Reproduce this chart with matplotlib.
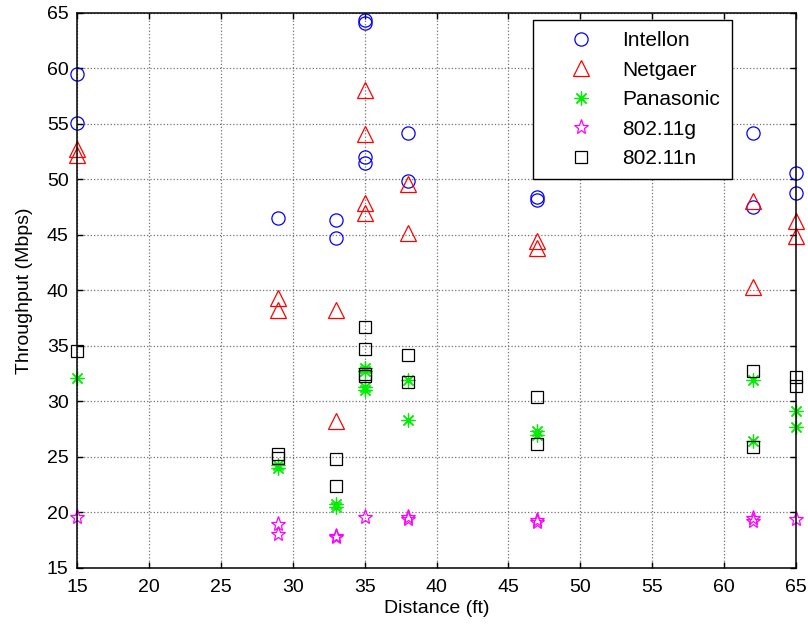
import numpy as np
from matplotlib import pyplot as plt

plt.rcParams['font.family'] = ['Liberation Sans', 'DejaVu Sans']

# 数据
intellon_x = [15, 15, 29, 33, 33, 35, 35, 35, 35, 38, 38, 47, 47, 62, 62, 65, 65]
intellon_y = [59.5, 55.1, 46.5, 46.3, 44.7, 64.3, 64.1, 52.0, 51.5, 54.2, 49.8, 48.4, 48.1, 54.2, 47.5, 50.6, 48.8]

netgaer_x = [15, 15, 29, 29, 33, 33, 35, 35, 35, 35, 38, 38, 47, 47, 62, 62, 65, 65]
netgaer_y = [52.7, 52.2, 39.3, 38.2, 38.2, 28.2, 58.0, 54.1, 47.9, 47.0, 49.6, 45.2, 44.4, 43.8, 48.0, 40.3, 46.2, 44.9]

panasonic_x = [15, 29, 29, 33, 33, 35, 35, 35, 35, 38, 38, 47, 47, 62, 62, 65, 65]
panasonic_y = [32.1, 24.3, 24.0, 20.8, 20.5, 33.0, 32.7, 31.3, 31.0, 31.9, 28.3, 27.3, 27.0, 31.9, 26.4, 29.1, 27.7]

g_x = [15, 29, 29, 33, 33, 35, 38, 38, 47, 47, 62, 62, 65]
g_y = [19.6, 19.0, 18.1, 17.9, 17.8, 19.6, 19.6, 19.4, 19.3, 19.1, 19.5, 19.2, 19.4]

n_x = [15, 29, 29, 33, 33, 35, 35, 35, 35, 38, 38, 47, 47, 62, 62, 65, 65]
n_y = [34.5, 25.3, 24.9, 24.8, 22.4, 36.7, 34.7, 32.5, 32.3, 34.2, 31.7, 30.4, 26.2, 32.7, 25.9, 32.2, 31.4]

x_ticks = [15, 20, 25, 30, 35, 40, 45, 50, 55, 60, 65]
y_ticks = [15, 20, 25, 30, 35, 40, 45, 50, 55, 60, 65]

fig = plt.figure(figsize=(8.08, 6.29), dpi=100)
ax = fig.add_axes([0.0953, 0.097, 0.89, 0.883])

mew = 0.9
common = dict(linestyle='none', markerfacecolor='none', markeredgewidth=mew, clip_on=False)
ax.plot(intellon_x, intellon_y, marker='o', markersize=9.5,
        markeredgecolor='#0000ff', label='Intellon', **common)
ax.plot(netgaer_x, netgaer_y, marker='^', markersize=11,
        markeredgecolor='#ff0000', label='Netgaer', **common)
ax.plot(panasonic_x, panasonic_y, marker=(8, 2, 0), markersize=10,
        markeredgecolor='#00ee00', label='Panasonic', **common)
ax.plot(g_x, g_y, marker='*', markersize=11,
        markeredgecolor='#ff00ff', label='802.11g', **common)
ax.plot(n_x, n_y, marker='s', markersize=9,
        markeredgecolor='black', label='802.11n', **common)

ax.set_xlim(15, 65)
ax.set_ylim(15, 65)
ax.set_xticks(x_ticks)
ax.set_yticks(y_ticks)
ax.tick_params(direction='in', length=4, width=1, top=True, right=True, labelsize=14)
ax.tick_params(axis='x', pad=8)
ax.tick_params(axis='y', pad=6)
ax.grid(True, linestyle=':', color='0.45', linewidth=0.9)
ax.set_axisbelow(True)
for s in ax.spines.values():
    s.set_linewidth(1.1)

ax.set_xlabel('Distance (ft)', fontsize=14, labelpad=3)
ax.set_ylabel('Throughput (Mbps)', fontsize=14, labelpad=10)

leg = ax.legend(loc='upper left', bbox_to_anchor=(0.634, 0.987), fontsize=15,
                frameon=True, fancybox=False, framealpha=1, edgecolor='black',
                borderpad=0.55, labelspacing=0.5, handlelength=3.5, handletextpad=0.25,
                borderaxespad=0, numpoints=1)
leg.get_frame().set_linewidth(1.0)

plt.savefig('out.png', dpi=100)
